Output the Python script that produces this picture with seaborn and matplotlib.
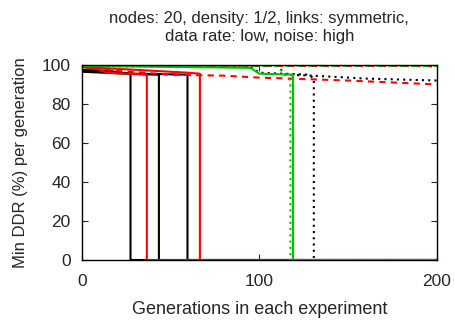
import matplotlib
matplotlib.use('Agg')
import matplotlib.pyplot as plt
import seaborn as sns

# Step-like traces (x = generation, y = min DDR %)
black_solid_1_x = [0, 15, 26, 27.4, 27.4, 200]
black_solid_1_y = [97.5, 97, 95.5, 95, 0, 0]
black_solid_2_x = [0, 25, 43.4, 43.4, 200]
black_solid_2_y = [96.5, 95.5, 95, 0, 0]
black_solid_3_x = [0, 30, 59.5, 59.5, 200]
black_solid_3_y = [97, 95.5, 95, 0, 0]

red_solid_1_x = [0, 8, 14, 36.6, 36.6, 200]
red_solid_1_y = [99, 98, 96, 95, 0, 0]
red_solid_2_x = [0, 20, 40, 60, 66.5, 66.5, 200]
red_solid_2_y = [99, 98, 97, 96, 95.5, 0, 0]

red_dashed_1_x = [0, 195, 200]
red_dashed_1_y = [99.5, 99.5, 98.5]
red_dashed_2_x = [0, 20, 50, 80, 100, 150, 200]
red_dashed_2_y = [99, 97, 95, 94.5, 93.5, 92, 90]

black_dotted_1_x = [0, 95, 100, 128, 130.7, 130.7, 200]
black_dotted_1_y = [99.5, 99, 96, 95, 93, 0, 0]
black_dotted_2_x = [0, 110, 115, 130, 160, 200]
black_dotted_2_y = [99.5, 99.5, 95, 94.5, 93, 92]

green_dashed_x = [0, 200]
green_dashed_y = [99.8, 99.5]
green_dotted_x = [0, 110, 117.5, 117.5, 200]
green_dotted_y = [99.8, 99.5, 92, 0, 0]
green_solid_x = [0, 50, 95, 100, 119, 119, 200]
green_solid_y = [99.5, 99, 98.5, 95.5, 95, 0, 0]

x_ticks = [0, 100, 200]
y_ticks = [0, 20, 40, 60, 80, 100]

sns.set_style('ticks')
plt.rcParams['font.family'] = ['Liberation Sans', 'DejaVu Sans']

fig = plt.figure(figsize=(4.55, 3.23), dpi=100, facecolor='white')
ax = fig.add_axes([0.180, 0.195, 0.780, 0.604])

dot = (0, (1, 2))
dash = (0, (3, 2.5))
series = [
    (black_solid_1_x, black_solid_1_y, 'black', '-'),
    (black_solid_2_x, black_solid_2_y, 'black', '-'),
    (black_solid_3_x, black_solid_3_y, 'black', '-'),
    (red_solid_1_x, red_solid_1_y, '#ff0000', '-'),
    (red_solid_2_x, red_solid_2_y, '#ff0000', '-'),
    (black_dotted_1_x, black_dotted_1_y, 'black', dot),
    (black_dotted_2_x, black_dotted_2_y, 'black', dot),
    (red_dashed_2_x, red_dashed_2_y, '#ff0000', dash),
    (red_dashed_1_x, red_dashed_1_y, '#ff0000', dash),
    (green_dashed_x, green_dashed_y, '#00b000', (1.5, (3, 2.5))),
    (green_dotted_x, green_dotted_y, '#00c000', dot),
    (green_solid_x, green_solid_y, '#00c000', '-'),
]
for xs, ys, col, ls in series:
    sns.lineplot(x=xs, y=ys, sort=False, estimator=None, color=col,
                 linestyle=ls, linewidth=1.5, ax=ax)

ax.set_xlim(0, 200)
ax.set_ylim(0, 100)
ax.set_xticks(x_ticks)
ax.set_yticks(y_ticks)
ax.tick_params(direction='in', length=4, width=0.8, top=True, right=True,
               labelsize=12.5, pad=8)
ax.tick_params(axis='x', pad=10)
for sp in ax.spines.values():
    sp.set_linewidth(1.0)
    sp.set_color('black')

ax.set_xlabel('Generations in each experiment', fontsize=13, labelpad=9)
ax.set_ylabel('Min DDR (%) per generation', fontsize=12, labelpad=10)
ax.set_title('nodes: 20, density: 1/2, links: symmetric,\ndata rate: low, noise: high',
             fontsize=12, pad=17, linespacing=1.3)

fig.savefig('out.png', dpi=100, facecolor='white')
